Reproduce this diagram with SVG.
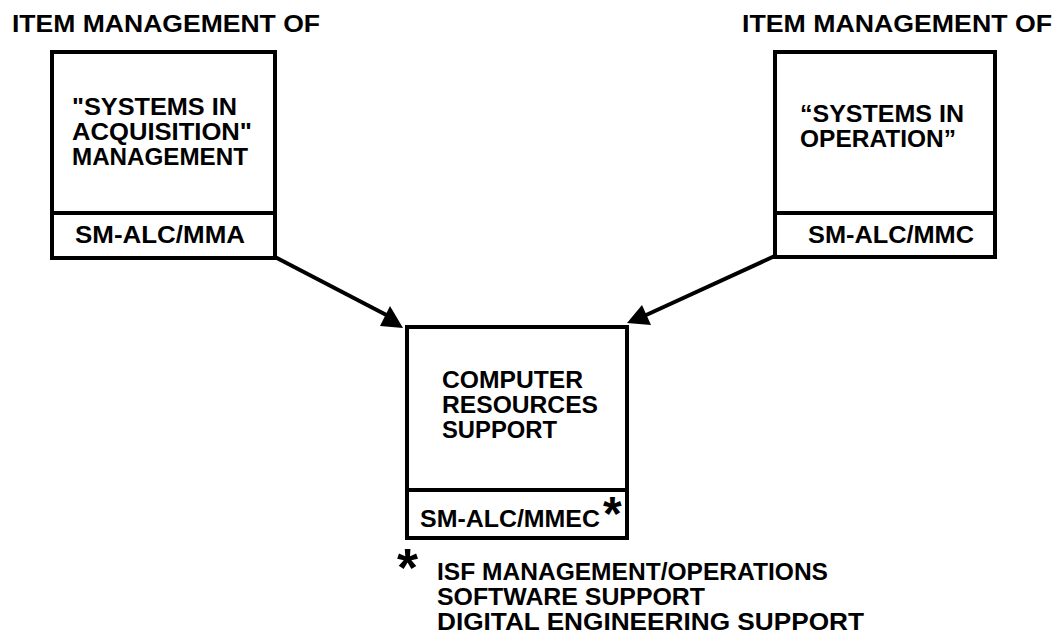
<svg xmlns="http://www.w3.org/2000/svg" width="1055" height="635" viewBox="0 0 1055 635">
<style>
text{font-family:"Liberation Sans",Arial,sans-serif;font-weight:bold;fill:#000}
.h{font-size:24px}
.b{font-size:23px}
.f{font-size:24px}
.ast{font-size:54px}
.box{fill:#fff;stroke:#000;stroke-width:4}
.div{stroke:#000;stroke-width:4}
.con{stroke:#000;stroke-width:4;fill:none}
</style>
<rect width="1055" height="635" fill="#fff"/>
<text class="h" x="12" y="32" textLength="308" lengthAdjust="spacingAndGlyphs">ITEM MANAGEMENT OF</text>
<text class="h" x="742" y="32" textLength="310" lengthAdjust="spacingAndGlyphs">ITEM MANAGEMENT OF</text>
<g id="connectors">
<line class="con" x1="275" y1="257" x2="396" y2="320"/>
<polygon points="390,306 380,326 403,328" fill="#000"/>
<line class="con" x1="777" y1="255" x2="644" y2="316"/>
<polygon points="642,305 627,323 651,325" fill="#000"/>
</g>
<g id="node-mma">
<rect class="box" x="52" y="52" width="223" height="206"/>
<line class="div" x1="52" y1="213" x2="275" y2="213"/>
<text class="b" x="72" y="115" textLength="165" lengthAdjust="spacingAndGlyphs">"SYSTEMS IN</text>
<text class="b" x="72" y="140" textLength="180" lengthAdjust="spacingAndGlyphs">ACQUISITION"</text>
<text class="b" x="72" y="165" textLength="176" lengthAdjust="spacingAndGlyphs">MANAGEMENT</text>
<text class="b" x="75" y="243" textLength="170" lengthAdjust="spacingAndGlyphs">SM-ALC/MMA</text>
</g>
<g id="node-mmc">
<rect class="box" x="775" y="52" width="220" height="205"/>
<line class="div" x1="775" y1="213" x2="995" y2="213"/>
<text class="b" x="800" y="122" textLength="164" lengthAdjust="spacingAndGlyphs">“SYSTEMS IN</text>
<text class="b" x="800" y="147" textLength="156" lengthAdjust="spacingAndGlyphs">OPERATION”</text>
<text class="b" x="808" y="243" textLength="166" lengthAdjust="spacingAndGlyphs">SM-ALC/MMC</text>
</g>
<g id="node-mmec">
<rect class="box" x="407" y="327" width="220" height="211"/>
<line class="div" x1="407" y1="490" x2="627" y2="490"/>
<text class="b" x="442" y="388" textLength="141" lengthAdjust="spacingAndGlyphs">COMPUTER</text>
<text class="b" x="442" y="413" textLength="156" lengthAdjust="spacingAndGlyphs">RESOURCES</text>
<text class="b" x="442" y="438" textLength="115" lengthAdjust="spacingAndGlyphs">SUPPORT</text>
<text class="b" x="420" y="527" textLength="180" lengthAdjust="spacingAndGlyphs">SM-ALC/MMEC</text>
<text x="603" y="530" style="font-size:48px">*</text>
</g>
<g id="footnote">
<text class="ast" x="397" y="586">*</text>
<text class="f" x="437" y="580" textLength="391" lengthAdjust="spacingAndGlyphs">ISF MANAGEMENT/OPERATIONS</text>
<text class="f" x="437" y="605" textLength="268" lengthAdjust="spacingAndGlyphs">SOFTWARE SUPPORT</text>
<text class="f" x="437" y="630" textLength="427" lengthAdjust="spacingAndGlyphs">DIGITAL ENGINEERING SUPPORT</text>
</g>
</svg>
